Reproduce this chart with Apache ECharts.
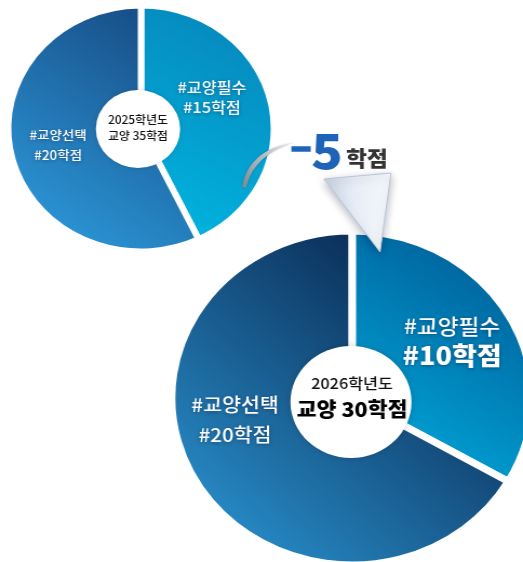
<!DOCTYPE html>
<html>
<head>
<meta charset="utf-8">
<script src="https://cdn.jsdelivr.net/npm/echarts@6/dist/echarts.min.js"></script>
<style>
    html, body { margin: 0; padding: 0; background: #fff; overflow: hidden; }
    /* 원본 이미지가 가로로 약간 늘어나 있어서 차트 영역 전체를 가로로 늘림 */
    #chart { width: 484px; height: 562px; transform: scaleX(1.0806); transform-origin: 0 0; }
</style>
</head>
<body>
<div id="chart"></div>
<script>
    // 데이터
    const categories = ['교양필수', '교양선택'];
    const years = ['2025학년도', '2026학년도'];
    const credits2025 = [15, 20];
    const credits2026 = [10, 20];

    const K = 523 / 484;               // 가로 배율
    const X = v => +(v / K).toFixed(1); // 화면 x -> 차트 x
    const FONT = '"Noto Sans CJK KR", "Noto Sans", sans-serif';

    const total2025 = credits2025.reduce((a, b) => a + b, 0);
    const total2026 = credits2026.reduce((a, b) => a + b, 0);
    const diff = credits2026[0] - credits2025[0];

    const G = (c1, c2) => ({
        type: 'linear', x: 1, y: 0, x2: 0, y2: 1,
        colorStops: [{ offset: 0, color: c1 }, { offset: 1, color: c2 }]
    });

    // 라벨 위치 (화면 좌표)
    const labelPos = [
        [[212, 97], [58, 145]],
        [[452, 341], [235, 420]]
    ];
    const layoutFor = s => function (p) {
        const pos = labelPos[s][p.dataIndex];
        return { x: X(pos[0]), y: pos[1], align: 'center', verticalAlign: 'middle' };
    };

    const textShadow = { textShadowColor: 'rgba(0,20,60,0.45)', textShadowBlur: 4, textShadowOffsetY: 1 };

    // 화살표 꼬리: 두 개의 2차 곡선으로 만든 초승달 모양
    function quad(p0, p1, p2, n) {
        let pts = [];
        for (let i = 0; i <= n; i++) {
            let t = i / n, u = 1 - t;
            pts.push([
                X(u * u * p0[0] + 2 * u * t * p1[0] + t * t * p2[0]),
                u * u * p0[1] + 2 * u * t * p1[1] + t * t * p2[1]
            ]);
        }
        return pts;
    }
    const tailPts = quad([242, 187], [249, 149], [294, 143], 24)
        .concat(quad([294, 143], [254, 154], [246, 188], 24));

    let myChart = echarts.init(document.getElementById('chart'));
    let option = {
        animation: false,
        series: [
            {
                type: 'pie',
                center: [X(141), 128.5],
                radius: [0, 123],
                startAngle: 90,
                silent: true,
                itemStyle: { borderColor: '#fff', borderWidth: 6 },
                label: {
                    position: 'inside',
                    color: '#fff',
                    fontFamily: FONT,
                    fontWeight: 500,
                    ...textShadow,
                    formatter: p => '#' + p.name + '\n#' + p.value + '학점'
                },
                labelLine: { show: false },
                labelLayout: layoutFor(0),
                data: categories.map((c, i) => ({
                    name: c,
                    value: credits2025[i],
                    itemStyle: { color: i === 0 ? G('#0782b8', '#00b8e2') : G('#14427a', '#2fa2e4') },
                    label: i === 0 ? { fontSize: 15, lineHeight: 20 } : { fontSize: 12.5, lineHeight: 20 }
                }))
            },
            {
                type: 'pie',
                center: [X(352), 398],
                radius: [0, 167],
                startAngle: 90,
                silent: true,
                itemStyle: { borderColor: '#fff', borderWidth: 7 },
                label: {
                    position: 'inside',
                    color: '#fff',
                    fontFamily: FONT,
                    fontWeight: 500,
                    ...textShadow
                },
                labelLine: { show: false },
                labelLayout: layoutFor(1),
                data: categories.map((c, i) => ({
                    name: c,
                    value: credits2026[i],
                    itemStyle: { color: i === 0 ? G('#00528f', '#00b2e2') : G('#010f33', '#2d9ddc') },
                    label: i === 0 ? {
                        formatter: p => '{a|#' + p.name + '}\n{b|#' + p.value + '학점}',
                        rich: {
                            a: { fontSize: 21, fontWeight: 500, lineHeight: 28, color: '#fff', fontFamily: FONT, ...textShadow },
                            b: { fontSize: 25, fontWeight: 900, lineHeight: 30, color: '#fff', fontFamily: FONT, ...textShadow }
                        }
                    } : {
                        fontSize: 19, lineHeight: 30,
                        formatter: p => '#' + p.name + '\n#' + p.value + '학점'
                    }
                }))
            }
        ],
        graphic: [
            // 가운데 흰 원
            {
                type: 'circle', z: 10,
                shape: { cx: X(138), cy: 129, r: 39 },
                style: { fill: '#fff', shadowColor: 'rgba(0,0,0,0.15)', shadowBlur: 5 }
            },
            {
                type: 'text', z: 11, x: X(138), y: 128,
                style: {
                    text: years[0] + '\n교양 ' + total2025 + '학점',
                    font: '500 11px ' + FONT, lineHeight: 16,
                    fill: '#111', align: 'center', verticalAlign: 'middle'
                }
            },
            {
                type: 'circle', z: 10,
                shape: { cx: X(351), cy: 402, r: 56 },
                style: { fill: '#fff', shadowColor: 'rgba(0,0,0,0.18)', shadowBlur: 6 }
            },
            {
                type: 'text', z: 11, x: X(352), y: 397,
                style: {
                    text: '{a|' + years[1] + '}\n{b|교양 ' + total2026 + '학점}',
                    align: 'center', verticalAlign: 'middle',
                    rich: {
                        a: { fontSize: 15, fontWeight: 500, lineHeight: 25, fill: '#111', fontFamily: FONT },
                        b: { fontSize: 20, fontWeight: 900, lineHeight: 28, fill: '#000', fontFamily: FONT }
                    }
                }
            },
            // 화살표 꼬리
            {
                type: 'polygon', z: 20,
                shape: { points: tailPts },
                style: {
                    fill: {
                        type: 'linear', x: 0, y: 1, x2: 1, y2: 0,
                        colorStops: [
                            { offset: 0, color: '#7f8994' },
                            { offset: 0.6, color: '#b9c0c8' },
                            { offset: 1, color: '#e8ebef' }
                        ]
                    },
                    shadowColor: 'rgba(0,0,0,0.25)', shadowBlur: 2
                }
            },
            // 화살표 머리
            {
                type: 'polygon', z: 20,
                shape: { points: [[X(324), 179], [X(391), 173], [X(380), 252]] },
                style: {
                    fill: {
                        type: 'linear', x: 0, y: 0, x2: 1, y2: 0,
                        colorStops: [
                            { offset: 0, color: '#c9d4e2' },
                            { offset: 0.45, color: '#e6edf6' },
                            { offset: 1, color: '#f7f9fc' }
                        ]
                    },
                    stroke: '#b9c5d4', lineWidth: 1, lineJoin: 'round',
                    shadowColor: 'rgba(0,20,60,0.3)', shadowBlur: 8, shadowOffsetY: 3
                }
            },
            // -5학점
            {
                type: 'rect', z: 21,
                shape: { x: X(290), y: 145, width: X(22), height: 8, r: 1 },
                style: { fill: '#1e63b8', stroke: '#fff', lineWidth: 2.5 }
            },
            {
                type: 'text', z: 21, x: X(327), y: 151,
                style: {
                    text: String(Math.abs(diff)),
                    font: '900 48px ' + FONT,
                    fill: '#1e63b8', stroke: '#fff', lineWidth: 4,
                    align: 'center', verticalAlign: 'middle'
                }
            },
            {
                type: 'text', z: 21, x: X(367), y: 158,
                style: {
                    text: '학점',
                    font: '900 21px ' + FONT,
                    fill: '#333', stroke: '#fff', lineWidth: 3,
                    align: 'center', verticalAlign: 'middle'
                }
            }
        ]
    };
    myChart.setOption(option);
</script>
</body>
</html>
